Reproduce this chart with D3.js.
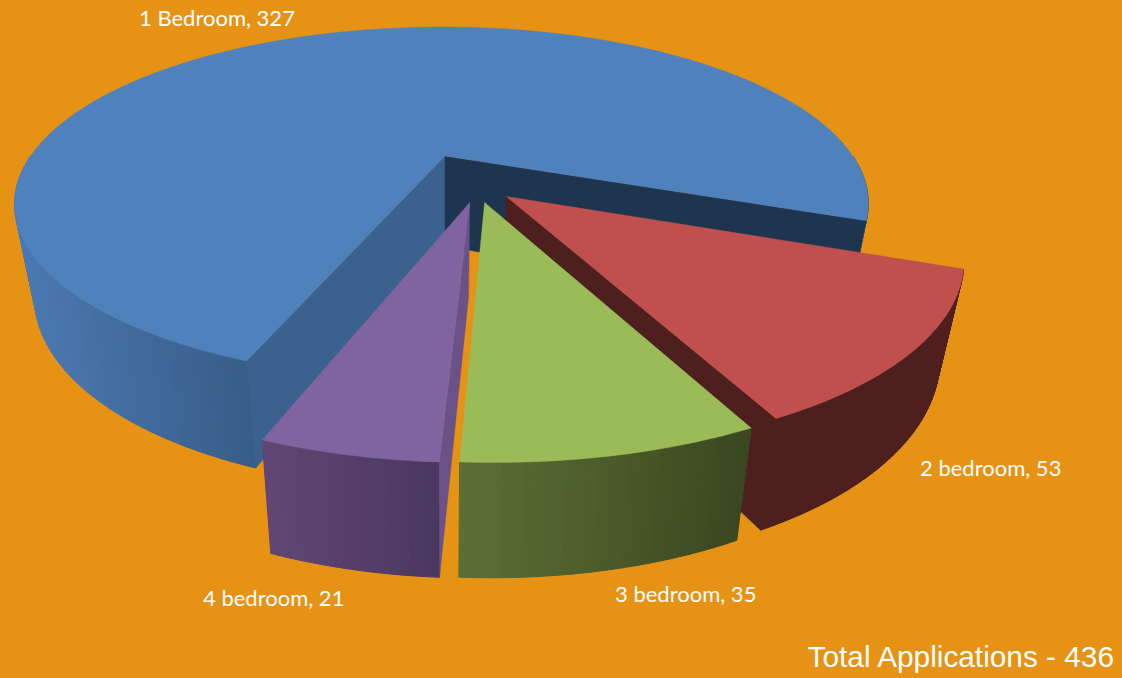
<!DOCTYPE html>
<html>
<head>
<meta charset="utf-8">
<script src="https://d3js.org/d3.v7.min.js"></script>
<style>
  html, body { margin: 0; padding: 0; background: #e69215; overflow: hidden; }
  svg { display: block; }
</style>
</head>
<body>
<svg width="1122" height="678"></svg>
<script>
var categories = ["1 Bedroom", "2 bedroom", "3 bedroom", "4 bedroom"];
var applications = [327, 53, 35, 21];

// look of each slice, same order as categories
var topColors = ["#4f81bd", "#c0504d", "#9bbb59", "#8064a2"];
var wallLeft = ["#4a79b2", "#4e1f1f", "#5c7035", "#5f4673"];
var wallRight = ["#375b85", "#4e1f1f", "#3c4920", "#4a385f"];
var explode = [[0, 0], [0.14, 0.232], [0.0895, 0.264], [0.056, 0.264]];
var radiusX = [1, 1, 1.005, 0.995];
var radiusY = [1, 0.985, 0.98, 0.98];
var labelPos = [[139, 26], [920, 476], [615, 602], [203, 606]];

var svg = d3.select("svg");

// perspective of the disc, fitted by eye
var cx = 445, cy = 156, rx = 411, ry = 163.8, perspY = 0.27, perspX = 0.008;
var rad = Math.PI / 180;

function topPoint(a, i) {
  var X = explode[i][0] + radiusX[i] * Math.sin(a),
      Y = explode[i][1] - radiusY[i] * Math.cos(a),
      w = 1 - perspY * Y + perspX * X;
  return [cx + rx * X / w, cy + ry * Y / w];
}

function apexPoint(i) {
  var X = explode[i][0], Y = explode[i][1], w = 1 - perspY * Y + perspX * X;
  return [cx + rx * X / w, cy + ry * Y / w];
}

// same point on the underside of the pie
function under(p) {
  return [cx + (p[0] - cx) * 0.953, 77.3 + 1.082 * p[1]];
}

var pie = d3.pie().sort(null).startAngle(201.1 * rad).endAngle(561.1 * rad);
var arcs = pie(applications);
var line = d3.line();

function arcAngles(d) {
  var n = Math.ceil((d.endAngle - d.startAngle) / rad);
  return d3.range(n + 1).map(function (k) {
    return d.startAngle + (d.endAngle - d.startAngle) * k / n;
  });
}

function drawSlice(i, innerWalls) {
  var g = svg.append("g").attr("class", "slice");
  var apex = apexPoint(i);
  var angles = arcAngles(arcs[i]);
  var rim = angles.map(function (a) { return topPoint(a, i); });

  // rim wall, narrow strips so the shade follows x
  var shade = d3.scaleLinear()
    .domain(d3.extent(rim, function (p) { return under(p)[0]; }))
    .range([wallLeft[i], wallRight[i]]);
  if (i == 0) shade.domain([20, 258]).clamp(true);
  d3.pairs(angles).forEach(function (pair) {
    if (Math.cos(pair[0]) > 0) return; // back of the pie, never seen
    var p0 = topPoint(pair[0], i), p1 = topPoint(pair[1], i);
    var c = shade((p0[0] + p1[0]) / 2);
    g.append("path")
      .attr("d", line([p0, p1, under(p1), under(p0)]) + "Z")
      .attr("fill", c)
      .attr("stroke", c)
      .attr("stroke-width", 1);
  });

  // the flat cut faces that can be seen
  innerWalls.forEach(function (w) {
    var end = w.end == "start" ? rim[0] : rim[rim.length - 1];
    g.append("path")
      .attr("d", line([apex, end, under(end), under(apex)]) + "Z")
      .attr("fill", w.color)
      .attr("stroke", w.color)
      .attr("stroke-width", 0.4);
  });

  g.append("path")
    .attr("d", line([apex].concat(rim)) + "Z")
    .attr("fill", topColors[i])
    .attr("stroke", topColors[i])
    .attr("stroke-width", 0.4);
}

drawSlice(0, [{ end: "start", color: "#3b618f" }, { end: "end", color: "#1e3550" }]);
drawSlice(1, [{ end: "end", color: "#4e1f1f" }]);
drawSlice(3, [{ end: "start", color: "#6a5288" }]);
drawSlice(2, []);

svg.selectAll("text.label")
  .data(categories)
  .enter().append("text")
  .attr("class", "label")
  .attr("x", function (d, i) { return labelPos[i][0]; })
  .attr("y", function (d, i) { return labelPos[i][1]; })
  .attr("fill", "#fff")
  .style("font-family", "Lato, sans-serif")
  .style("font-size", "22px")
  .text(function (d, i) { return d + ", " + applications[i]; });

svg.append("text")
  .attr("x", 1114)
  .attr("y", 667)
  .attr("text-anchor", "end")
  .attr("fill", "#fff")
  .style("font-family", "'Liberation Sans', sans-serif")
  .style("font-size", "29.8px")
  .text("Total Applications - " + d3.sum(applications));
</script>
</body>
</html>
